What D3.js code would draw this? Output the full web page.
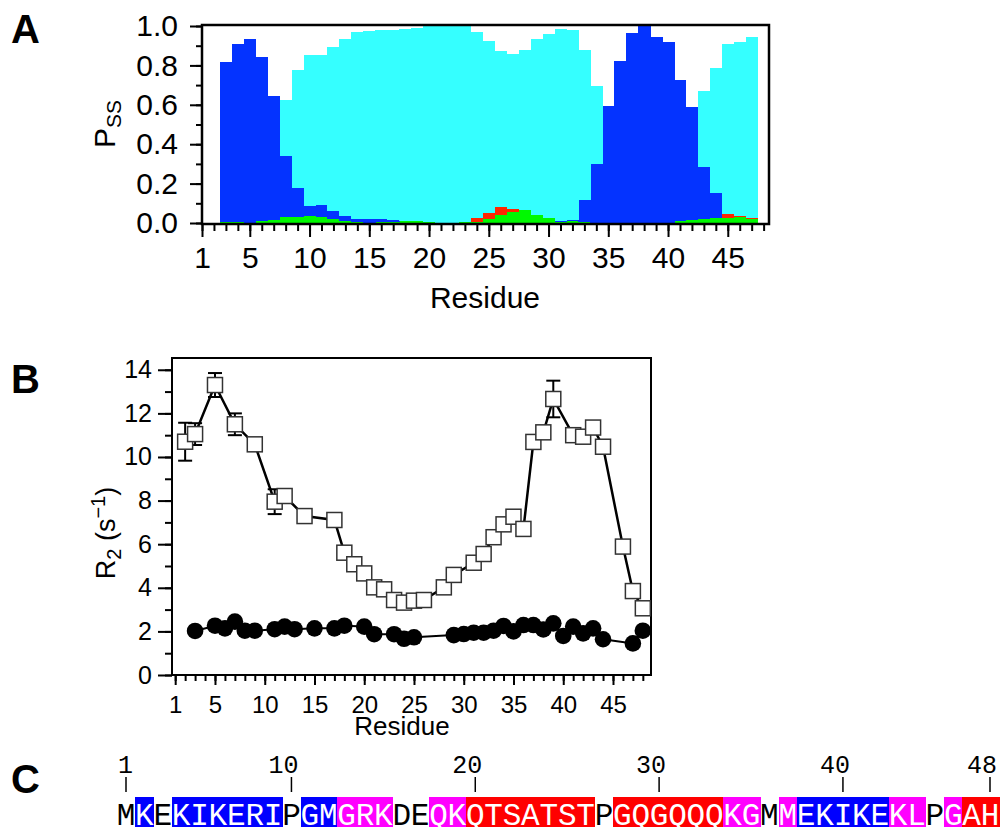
<!DOCTYPE html>
<html>
<head>
<meta charset="utf-8">
<script src="https://cdn.jsdelivr.net/npm/d3@7"></script>
<style>
  body { margin: 0; background: #fff; }
  svg { display: block; }
  text { font-family: "Liberation Sans", Arial, Helvetica, sans-serif; fill: #000; }
</style>
</head>
<body>
<svg id="fig" width="1000" height="827"></svg>
<script>
// ---- panel A: secondary structure probability per residue (stacked)
const ssResidues = [3, 4, 5, 6, 7, 8, 9, 10, 11, 12, 13, 14, 15, 16, 17, 18, 19, 20, 21, 22, 23, 24, 25,
  26, 27, 28, 29, 30, 31, 32, 33, 34, 35, 36, 37, 38, 39, 40, 41, 42, 43, 44, 45, 46, 47];
const pGreen = [0.007, 0.007, 0, 0.01, 0.015, 0.03, 0.03, 0.036, 0.03, 0.02, 0.01, 0.007, 0, 0.007, 0.007,
  0.01, 0.01, 0.005, 0, 0, 0.007, 0.005, 0.02, 0.041, 0.056, 0.066, 0.041, 0.026, 0.005, 0.01, 0.005,
  0, 0, 0, 0, 0, 0, 0, 0.01, 0.015, 0.02, 0.026, 0.026, 0.031, 0.02];
const pRed = [0, 0, 0, 0, 0, 0, 0, 0, 0, 0, 0, 0, 0, 0, 0, 0, 0, 0, 0, 0, 0, 0.02, 0.031, 0.041, 0.016,
  0, 0, 0, 0, 0, 0, 0, 0, 0, 0, 0, 0, 0, 0, 0, 0, 0, 0.02, 0.005, 0.006];
const pBlue = [0.811, 0.903, 0.935, 0.833, 0.629, 0.312, 0.149, 0.051, 0.062, 0.041, 0.026, 0.013, 0.02,
  0.013, 0.008, 0, 0, 0, 0, 0, 0, 0, 0, 0, 0, 0, 0, 0, 0.005, 0.005, 0.113, 0.30, 0.593, 0.823, 0.966,
  1.0, 0.945, 0.92, 0.716, 0.573, 0.266, 0.127, 0, 0, 0];
const pCyan = [0, 0, 0, 0, 0, 0.281, 0.598, 0.766, 0.761, 0.833, 0.899, 0.951, 0.956, 0.961, 0.966,
  0.976, 0.981, 0.995, 1.0, 1.0, 0.993, 0.946, 0.874, 0.792, 0.787, 0.813, 0.894, 0.935, 0.976, 0.966,
  0.761, 0.395, 0, 0, 0, 0, 0, 0, 0, 0, 0.384, 0.634, 0.864, 0.884, 0.919];
const ssColors = { green: "#00f900", red: "#ff2600", blue: "#0433ff", cyan: "#35ffff" };

const residueTicks = [1, 5, 10, 15, 20, 25, 30, 35, 40, 45];
const pssTicks = [0, 0.2, 0.4, 0.6, 0.8, 1.0];

// ---- panel B: R2 relaxation rates
const r2OpenRes = [2, 3, 5, 7, 9, 11, 12, 14, 17, 18, 19, 20, 21, 22, 23, 24, 25, 26, 28, 29,
  31, 32, 33, 34, 35, 36, 37, 38, 39, 41, 42, 43, 44, 46, 47, 48];
const r2OpenVal = [10.7, 11.05, 13.3, 11.5, 10.58, 7.95, 8.21, 7.29, 7.11, 5.61, 5.08, 4.66, 4.02, 3.93,
  3.44, 3.32, 3.41, 3.44, 4.02, 4.59, 5.15, 5.55, 6.32, 6.91, 7.26, 6.70, 10.69, 11.13, 12.66,
  11.0, 10.93, 11.35, 10.47, 5.89, 3.85, 3.06];
const r2OpenErr = [0.87, 0.5, 0.55, 0.5, 0.25, 0.57, 0.25, 0.25, 0.25, 0.25, 0.25, 0.25, 0.25, 0.25,
  0.25, 0.25, 0.25, 0.25, 0.25, 0.25, 0.25, 0.25, 0.25, 0.25, 0.25, 0.25, 0.25, 0.25, 0.84,
  0.25, 0.25, 0.25, 0.25, 0.25, 0.25, 0.25];
const r2FilledRes = [3, 5, 6, 7, 8, 9, 11, 12, 13, 15, 17, 18, 20, 21, 23, 24, 25, 29, 30, 31, 32,
  33, 34, 35, 36, 37, 38, 39, 40, 41, 42, 43, 44, 47, 48];
const r2FilledVal = [2.02, 2.26, 2.14, 2.45, 2.03, 2.03, 2.10, 2.22, 2.10, 2.14, 2.14, 2.26, 2.22, 1.87,
  1.87, 1.66, 1.73, 1.83, 1.88, 1.94, 1.94, 2.03, 2.25, 2.0, 2.29, 2.29, 2.09, 2.37, 1.79, 2.22,
  1.91, 2.14, 1.64, 1.45, 2.03];
const r2Ticks = [0, 2, 4, 6, 8, 10, 12, 14];

// ---- panel C: sequence with highlighted segments
const sequence = "MKEKIKERIPGMGRKDEQKQTSATSTPGQGQQQKGMMEKIKEKLPGAH";
const segments = "-B-BBBBBB-BBMMM--MMRRRRRRR-RRRRRRMM-MBBBBBMM-MRR";
const segColors = { B: "#0000ff", M: "#ff00ff", R: "#ff0000" };
const seqTicks = [1, 10, 20, 30, 40, 48];

const svg = d3.select("#fig");

function styleAxis(g, size) {
  g.select(".domain").remove();
  g.selectAll(".tick line").attr("stroke", "#000").attr("stroke-width", 2);
  g.selectAll(".tick text").style("font-size", size + "px")
    .style("font-family", '"Liberation Sans", Arial, sans-serif').attr("fill", "#000");
}

// ================= Panel A =================
const ax = d3.scaleLinear().domain([1, 48.45]).range([202, 769]);
const ay = d3.scaleLinear().domain([0, 1]).range([223, 26]);

const rowsA = ssResidues.map((r, i) => ({ res: r, green: pGreen[i], red: pRed[i], blue: pBlue[i], cyan: pCyan[i] }));
const layers = d3.stack().keys(["green", "red", "blue", "cyan"])(rowsA);

const gA = svg.append("g");
gA.selectAll("g.layer")
  .data(layers)
  .join("g")
  .attr("class", "layer")
  .attr("fill", d => ssColors[d.key])
  .attr("shape-rendering", "crispEdges")
  .selectAll("rect")
  .data(d => d)
  .join("rect")
  .attr("x", d => ax(d.data.res - 0.5))
  .attr("width", d => ax(d.data.res + 0.5) - ax(d.data.res - 0.5) + 0.5)
  .attr("y", d => ay(d[1]))
  .attr("height", d => Math.max(0, ay(d[0]) - ay(d[1])));

gA.append("rect").attr("x", 202).attr("y", 25).attr("width", 567).attr("height", 199)
  .attr("fill", "none").attr("stroke", "#000").attr("stroke-width", 2.5);

gA.append("g").attr("transform", "translate(0,224)")
  .call(d3.axisBottom(ax).tickValues(d3.range(1, 49)).tickSize(7).tickFormat(""))
  .call(g => styleAxis(g, 30));
gA.append("g").attr("transform", "translate(0,224)")
  .call(d3.axisBottom(ax).tickValues(residueTicks).tickSize(13).tickPadding(10).tickFormat(d3.format("d")))
  .call(g => styleAxis(g, 30));
gA.append("g").attr("transform", "translate(202,0)")
  .call(d3.axisLeft(ay).tickValues(d3.range(0, 1.01, 0.1)).tickSize(6).tickFormat(""))
  .call(g => styleAxis(g, 30));
gA.append("g").attr("transform", "translate(202,0)")
  .call(d3.axisLeft(ay).tickValues(pssTicks).tickSize(12).tickPadding(12).tickFormat(d3.format(".1f")))
  .call(g => styleAxis(g, 30));

gA.append("text").attr("x", 485).attr("y", 308).attr("text-anchor", "middle")
  .style("font-size", "30px").text("Residue");
const pss = gA.append("text").attr("transform", "translate(115,124) rotate(-90)")
  .attr("text-anchor", "middle").style("font-size", "30px");
pss.append("tspan").text("P");
pss.append("tspan").attr("dy", 6).style("font-size", "21px").text("SS");

// ================= Panel B =================
const bx = d3.scaleLinear().domain([0.68, 48.82]).range([172, 651]);
const by = d3.scaleLinear().domain([0, 14.54]).range([675, 358]);

const gB = svg.append("g");
gB.append("rect").attr("x", 172).attr("y", 358).attr("width", 479).attr("height", 317)
  .attr("fill", "none").attr("stroke", "#000").attr("stroke-width", 2);

gB.append("g").attr("transform", "translate(0,675)")
  .call(d3.axisBottom(bx).tickValues(d3.range(1, 49)).tickSize(6).tickFormat(""))
  .call(g => styleAxis(g, 23));
gB.append("g").attr("transform", "translate(0,675)")
  .call(d3.axisBottom(bx).tickValues(residueTicks).tickSize(10).tickPadding(11).tickFormat(d3.format("d")))
  .call(g => styleAxis(g, 24));
gB.append("g").attr("transform", "translate(172,0)")
  .call(d3.axisLeft(by).tickValues(d3.range(0, 15, 1)).tickSize(7).tickFormat(""))
  .call(g => styleAxis(g, 24));
gB.append("g").attr("transform", "translate(172,0)")
  .call(d3.axisLeft(by).tickValues(r2Ticks).tickSize(14).tickPadding(6).tickFormat(d3.format("d")))
  .call(g => styleAxis(g, 25));

const filled = r2FilledRes.map((r, i) => ({ r, v: r2FilledVal[i] }));
const open = r2OpenRes.map((r, i) => ({ r, v: r2OpenVal[i], e: r2OpenErr[i] }));
const line = d3.line().x(d => bx(d.r)).y(d => by(d.v));

gB.append("path").datum(filled).attr("d", line).attr("fill", "none")
  .attr("stroke", "#000").attr("stroke-width", 2);
gB.selectAll("circle.f").data(filled).join("circle").attr("class", "f")
  .attr("cx", d => bx(d.r)).attr("cy", d => by(d.v)).attr("r", 8.3).attr("fill", "#000");

gB.append("path").datum(open).attr("d", line).attr("fill", "none")
  .attr("stroke", "#000").attr("stroke-width", 2.5);
const eb = gB.selectAll("g.err").data(open).join("g").attr("class", "err")
  .attr("stroke", "#000").attr("stroke-width", 2);
eb.append("line").attr("x1", d => bx(d.r)).attr("x2", d => bx(d.r))
  .attr("y1", d => by(d.v - d.e)).attr("y2", d => by(d.v + d.e));
eb.append("line").attr("x1", d => bx(d.r) - 7).attr("x2", d => bx(d.r) + 7)
  .attr("y1", d => by(d.v + d.e)).attr("y2", d => by(d.v + d.e));
eb.append("line").attr("x1", d => bx(d.r) - 7).attr("x2", d => bx(d.r) + 7)
  .attr("y1", d => by(d.v - d.e)).attr("y2", d => by(d.v - d.e));
gB.selectAll("rect.sq").data(open).join("rect").attr("class", "sq")
  .attr("x", d => bx(d.r) - 7.5).attr("y", d => by(d.v) - 7.5)
  .attr("width", 15).attr("height", 15)
  .attr("fill", "#fff").attr("stroke", "#333").attr("stroke-width", 1.5);

gB.append("text").attr("x", 402).attr("y", 735).attr("text-anchor", "middle")
  .style("font-size", "26px").text("Residue");
const r2lab = gB.append("text").attr("transform", "translate(115,533) rotate(-90)")
  .attr("text-anchor", "middle").style("font-size", "27px");
r2lab.append("tspan").text("R");
r2lab.append("tspan").attr("dy", 6).style("font-size", "20px").text("2");
r2lab.append("tspan").attr("dy", -6).text(" (s");
r2lab.append("tspan").attr("dy", -10).style("font-size", "20px").text("\u22121");
r2lab.append("tspan").attr("dy", 10).text(")");

// ================= Panel C =================
const cx = d3.scaleLinear().domain([1, 48]).range([126, 990]);
const pitch = cx(2) - cx(1);
const seqData = sequence.split("").map((aa, i) => ({ r: i + 1, aa, seg: segments[i] }));
const gC = svg.append("g");

gC.selectAll("rect.hl").data(seqData.filter(d => d.seg !== "-")).join("rect").attr("class", "hl")
  .attr("x", d => cx(d.r) - pitch / 2).attr("width", pitch + 0.5)
  .attr("y", 797).attr("height", 40)
  .attr("fill", d => segColors[d.seg]).attr("shape-rendering", "crispEdges");
gC.selectAll("text.aa").data(seqData).join("text").attr("class", "aa")
  .attr("x", d => cx(d.r)).attr("y", 825).attr("text-anchor", "middle")
  .style("font-family", '"Liberation Mono", "DejaVu Sans Mono", monospace').style("font-size", "31px")
  .style("fill", d => d.seg === "-" ? "#000" : "#fff")
  .text(d => d.aa);

gC.selectAll("line.st").data(seqTicks).join("line").attr("class", "st")
  .attr("x1", d => cx(d)).attr("x2", d => cx(d)).attr("y1", 777).attr("y2", 792)
  .attr("stroke", "#000").attr("stroke-width", 1.5);
gC.selectAll("text.sn").data(seqTicks).join("text").attr("class", "sn")
  .attr("x", d => cx(d) + 7).attr("y", 773).attr("text-anchor", "end")
  .style("font-family", '"Liberation Mono", "DejaVu Sans Mono", monospace').style("font-size", "25px")
  .text(d => d);

// ---- panel letters
[["A", 43], ["B", 393], ["C", 793]].forEach(([t, y]) => {
  svg.append("text").attr("x", 11).attr("y", y).style("font-size", "40px")
    .style("font-weight", "bold").text(t);
});
</script>
</body>
</html>
